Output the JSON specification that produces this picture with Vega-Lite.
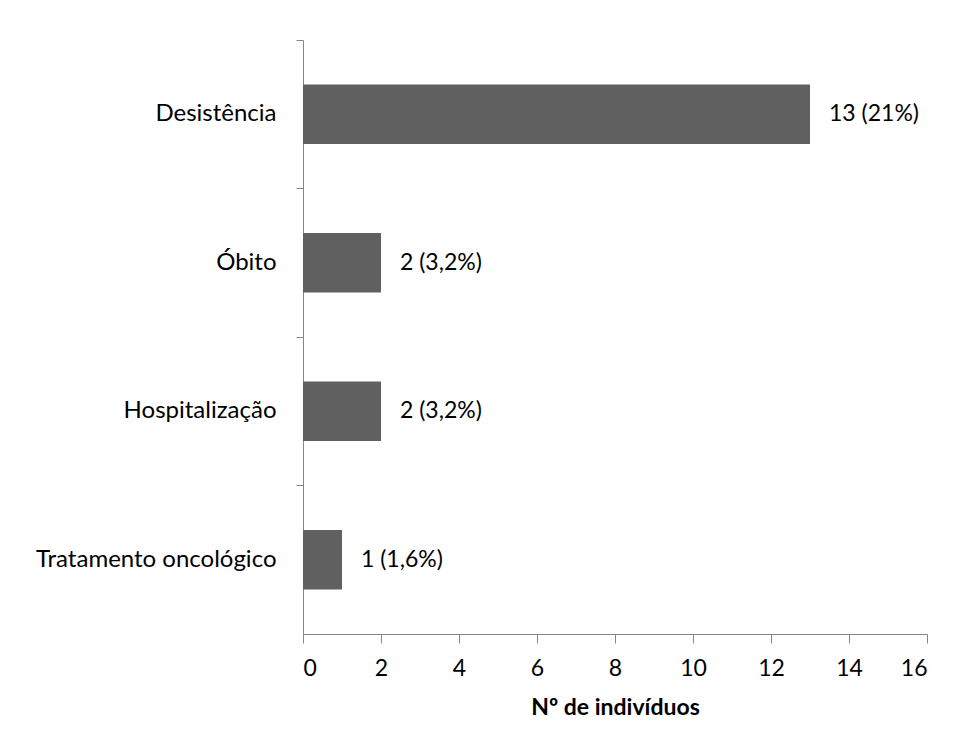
{
  "$schema": "https://vega.github.io/schema/vega-lite/v6.json",
  "width": 624,
  "height": 594,
  "autosize": {"type": "none"},
  "padding": {"left": 303, "top": 40, "right": 28, "bottom": 115},
  "background": "white",
  "config": {
    "view": {"stroke": null},
    "font": "Lato",
    "axis": {
      "domainColor": "#868686",
      "tickColor": "#868686",
      "labelColor": "#000000",
      "titleColor": "#000000",
      "labelFont": "Lato",
      "titleFont": "Lato",
      "grid": false
    }
  },
  "data": {
    "values": [
      {"categoria": "Desistência", "n": 13, "rotulo": "13 (21%)"},
      {"categoria": "Óbito", "n": 2, "rotulo": "2 (3,2%)"},
      {"categoria": "Hospitalização", "n": 2, "rotulo": "2 (3,2%)"},
      {"categoria": "Tratamento oncológico", "n": 1, "rotulo": "1 (1,6%)"}
    ]
  },
  "encoding": {
    "y": {
      "field": "categoria",
      "type": "nominal",
      "sort": null,
      "scale": {"paddingInner": 0.6, "paddingOuter": 0.3},
      "axis": {
        "title": null,
        "bandPosition": -0.75,
        "tickSize": 7,
        "labelPadding": 20,
        "labelFontSize": 24,
        "labelLimit": 400
      }
    },
    "x": {
      "field": "n",
      "type": "quantitative",
      "scale": {"domain": [0, 16], "nice": false},
      "axis": {
        "values": [0, 2, 4, 6, 8, 10, 12, 14, 16],
        "tickSize": 9,
        "labelPadding": 14,
        "labelFontSize": 23,
        "title": "Nº de indivíduos",
        "titleFontSize": 23,
        "titleFontWeight": "bold",
        "titlePadding": 16
      }
    }
  },
  "layer": [
    {"mark": {"type": "bar", "color": "#606060"}},
    {
      "mark": {"type": "text", "align": "left", "baseline": "middle", "dx": 19, "fontSize": 23, "color": "#000000"},
      "encoding": {"text": {"field": "rotulo"}}
    }
  ]
}
